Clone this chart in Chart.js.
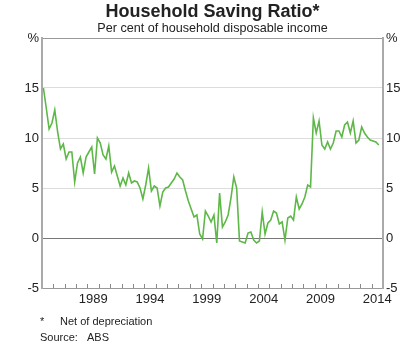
<!DOCTYPE html>
<html>
<head>
<meta charset="utf-8">
<script src="https://cdn.jsdelivr.net/npm/chart.js@4.4.0/dist/chart.umd.min.js"></script>
<style>
  body { margin: 0; background: #fff; font-family: Arial, "Liberation Sans", sans-serif; color: #222; }
  #wrap { position: relative; width: 400px; height: 344px; }
  canvas { position: absolute; left: 0; top: 0; }
  .head { position: absolute; left: 42px; width: 341px; text-align: center; white-space: nowrap; }
  .title { top: 1px; font-size: 18px; font-weight: bold; }
  .sub { top: 21px; font-size: 12.6px; }
  .note { position: absolute; font-size: 11px; white-space: nowrap; }
</style>
</head>
<body>
<div id="wrap">
  <canvas id="chart" width="400" height="344"></canvas>
  <div class="head title">Household Saving Ratio*</div>
  <div class="head sub">Per cent of household disposable income</div>
  <div class="note" style="left:40px;top:315px">*</div>
  <div class="note" style="left:60px;top:315px">Net of depreciation</div>
  <div class="note" style="left:40px;top:331px">Source:</div>
  <div class="note" style="left:87px;top:331px">ABS</div>
</div>
<script>
// quarterly household saving ratio, per cent, starting March quarter 1985
const firstQuarter = 1985.125
const saving = [
  15.0, 13.0, 10.9, 11.5, 12.8, 10.6, 8.9, 9.4, 7.9, 8.6,
  8.6, 5.6, 7.5, 8.1, 6.5, 8.1, 8.6, 9.1, 6.4, 10.0,
  9.5, 8.3, 7.9, 9.2, 6.6, 7.2, 6.2, 5.2, 6.0, 5.3,
  6.5, 5.5, 5.7, 5.6, 5.0, 3.9, 5.3, 7.0, 4.7, 5.2,
  5.0, 3.2, 4.6, 5.0, 5.1, 5.5, 5.9, 6.5, 6.1, 5.8,
  4.7, 3.7, 2.9, 2.1, 2.3, 0.4, -0.1, 2.7, 2.2, 1.6,
  2.3, -0.5, 4.5, 1.1, 1.6, 2.3, 4.0, 6.1, 5.0, -0.3,
  -0.4, -0.5, 0.5, 0.6, -0.2, -0.5, -0.3, 2.6, 0.4, 1.5,
  1.8, 2.7, 2.5, 1.4, 1.6, -0.2, 2.0, 2.2, 1.8, 4.1,
  2.9, 3.4, 4.1, 5.3, 5.1, 12.0, 10.5, 11.7, 9.3, 8.9,
  9.6, 8.9, 9.5, 10.7, 10.7, 10.1, 11.3, 11.6, 10.5, 11.7,
  9.5, 9.8, 11.1, 10.5, 10.1, 9.8, 9.7, 9.6, 9.3
]
const yearLabels = [1989, 1994, 1999, 2004, 2009, 2014]
const yTicks = [-5, 0, 5, 10, 15, 20]

const points = saving.map((v, i) => ({x: firstQuarter + i / 4, y: v}))
const tickFont = {family: 'Arial, "Liberation Sans", sans-serif', size: 13}

// small year marks pointing up from the bottom border
const yearMarks = {
  id: 'yearMarks',
  afterDatasetsDraw(chart) {
    const {ctx, chartArea, scales} = chart
    ctx.save()
    ctx.strokeStyle = '#8a8a8a'
    ctx.lineWidth = 1
    scales.x.ticks.forEach(t => {
      if (t.value <= 1985 || t.value >= 2015) return
      const px = Math.round(scales.x.getPixelForValue(t.value)) + 0.5
      ctx.beginPath()
      ctx.moveTo(px, chartArea.bottom)
      ctx.lineTo(px, chartArea.bottom - 4)
      ctx.stroke()
    })
    ctx.restore()
  }
}

const setYTicks = s => { s.ticks = yTicks.map(v => ({value: v})) }

new Chart(document.getElementById('chart').getContext('2d'), {
  type: 'line',
  data: {
    datasets: [{
      data: points,
      borderColor: '#5db847',
      borderWidth: 1.6,
      pointRadius: 0,
      tension: 0,
      fill: false
    }]
  },
  options: {
    responsive: false,
    animation: false,
    layout: {padding: {top: 38, bottom: 26, left: 0, right: 0}},
    plugins: {legend: {display: false}, tooltip: {enabled: false}},
    scales: {
      x: {
        type: 'linear',
        min: 1985,
        max: 2015,
        afterBuildTicks: s => {
          const t = []
          for (let yr = 1985; yr <= 2015; yr++) t.push({value: yr})
          s.ticks = t
        },
        afterFit: s => { s.height = 30 },
        ticks: {
          autoSkip: false,
          maxRotation: 0,
          labelOffset: 5.7,
          padding: 4,
          color: '#222',
          font: tickFont,
          callback: v => yearLabels.includes(v) ? String(v) : ''
        },
        grid: {drawOnChartArea: false, drawTicks: false},
        border: {color: '#999', width: 1}
      },
      y: {
        position: 'left',
        min: -5,
        max: 20,
        afterBuildTicks: setYTicks,
        afterFit: s => { s.width = 42 },
        ticks: {color: '#222', font: tickFont, padding: 3, callback: v => v === 20 ? '%' : v},
        grid: {
          drawTicks: false,
          color: c => {
            const v = c.tick.value
            if (v === 0) return '#777'
            if (v === 20) return '#999'
            if (v === -5) return 'rgba(0,0,0,0)'
            return '#dcdcdc'
          }
        },
        border: {color: '#aaa', width: 2}
      },
      y2: {
        position: 'right',
        min: -5,
        max: 20,
        afterBuildTicks: setYTicks,
        afterFit: s => { s.width = 17 },
        ticks: {color: '#222', font: tickFont, padding: 3, callback: v => v === 20 ? '%' : v},
        grid: {drawOnChartArea: false, drawTicks: false},
        border: {color: '#aaa', width: 2}
      }
    }
  },
  plugins: [yearMarks]
})
</script>
</body>
</html>
